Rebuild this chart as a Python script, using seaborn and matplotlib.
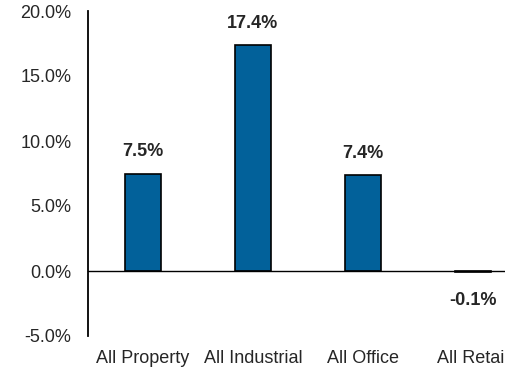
import matplotlib
matplotlib.use("Agg")
import matplotlib.pyplot as plt
import seaborn as sns
import pandas as pd

categories = ["All Property", "All Industrial", "All Office", "All Retail"]
values = [7.5, 17.4, 7.4, -0.1]
yticks = [-5, 0, 5, 10, 15, 20]

sns.set_style("white")
plt.rcParams["font.family"] = ["Liberation Sans", "DejaVu Sans"]

df = pd.DataFrame({"segment": categories, "ret": values})

fig = plt.figure(figsize=(5.05, 3.71), dpi=100)
ax = fig.add_axes([88 / 505, 35 / 371, 440 / 505, 325 / 371])

sns.barplot(data=df, x="segment", y="ret", color="#02619A", saturation=1,
            width=0.32, edgecolor="black", linewidth=1.2, ax=ax)

ax.set_ylim(-5, 20)
ax.set_xlim(-0.5, 3.5)
ax.set_yticks(yticks)
ax.set_yticklabels([f"{t:.1f}%" for t in yticks], fontsize=13)
ax.tick_params(axis="x", labelsize=13, pad=10, length=0)
ax.tick_params(axis="y", pad=12, length=0)
ax.set_xlabel("")
ax.set_ylabel("")

ax.axhline(0, color="black", linewidth=1, zorder=1, clip_on=False)
for s in ["top", "right", "bottom"]:
    ax.spines[s].set_visible(False)
ax.spines["left"].set_color("black")
ax.spines["left"].set_linewidth(1.3)

for i, v in enumerate(values):
    if v >= 0:
        ax.annotate(f"{v:.1f}%", (i, v), xytext=(0, 9.5), textcoords="offset points",
                    ha="center", va="bottom", fontsize=13, fontweight="bold")
    else:
        ax.annotate(f"{v:.1f}%", (i, v), xytext=(0, -14), textcoords="offset points",
                    ha="center", va="top", fontsize=13, fontweight="bold")

fig.savefig("out.png", dpi=100)
